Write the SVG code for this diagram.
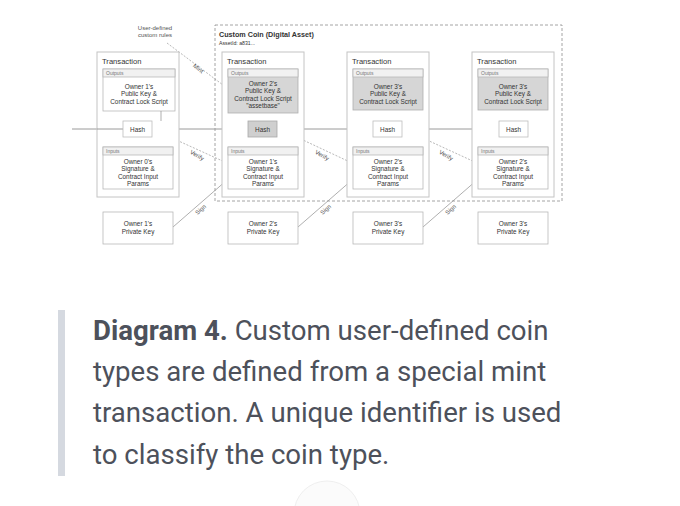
<svg xmlns="http://www.w3.org/2000/svg" width="680" height="506" viewBox="0 0 680 506">
<defs>
<style>
.bg{fill:#ffffff}
.outer{fill:#fff;stroke:#c4c4c4;stroke-width:1}
.box{fill:#fff;stroke:#b8b8b8;stroke-width:0.8}
.gbox{fill:#d6d6d6;stroke:#b0b0b0;stroke-width:0.8}
.hdr{fill:#f1f1f1;stroke:#b8b8b8;stroke-width:0.8}
.hash{fill:#fff;stroke:#bdbdbd;stroke-width:0.8}
.ghash{fill:#cfcfcf;stroke:#a8a8a8;stroke-width:0.8}
.t{font-family:"Liberation Sans",Arial,sans-serif;fill:#333}
.title{font-size:7.6px}
.small{font-size:5px;fill:#777}
.body{font-size:6.4px;text-anchor:middle}
.lbl{font-size:6px;fill:#555;text-anchor:middle}
.chain{stroke:#9a9a9a;stroke-width:1;fill:none}
.link{stroke:#8c8c8c;stroke-width:0.7;fill:none}
.dash{stroke:#9a9a9a;stroke-width:0.7;fill:none;stroke-dasharray:2,1.5}
.cap{font-family:Roboto,"Liberation Sans",sans-serif;font-size:27.6px;fill:#4d515b}
</style>
<marker id="ah" viewBox="0 0 6 6" refX="5.5" refY="3" markerWidth="4" markerHeight="4" orient="auto">
<path d="M0,0 L6,3 L0,6 z" fill="#555"/>
</marker>
</defs>
<rect class="bg" x="0" y="0" width="680" height="506"/>

<g id="custom-coin">
<rect x="215" y="25" width="347" height="176" fill="none" stroke="#9a9a9a" stroke-width="0.9" stroke-dasharray="3,2"/>
<text class="t" x="219" y="37" font-size="7.2px" font-weight="bold" fill="#222">Custom Coin (Digital Asset)</text>
<text class="t" x="219" y="44.5" font-size="5.2px" fill="#555">AssetId: a831...</text>
</g>

<g id="connectors">
<path class="chain" d="M72 129 H123"/>
<path class="chain" d="M179 129 H248"/>
<path class="chain" d="M304 129 H373"/>
<path class="chain" d="M429 129 H499"/>
<path class="link" d="M138.5 111 V121 M138.5 137 V147"/>
<path class="link" d="M263 113 V121 M263 137 V147"/>
<path class="link" d="M388 110 V121 M388 137 V147"/>
<path class="link" d="M513 110 V121 M513 137 V147"/>
<path class="link" d="M161 111 V133"/>
<path class="dash" d="M161 133 L227 163" marker-end="url(#ah)"/>
<path class="link" d="M288 113 V133"/>
<path class="dash" d="M288 133 L352 163" marker-end="url(#ah)"/>
<path class="link" d="M414 110 V134"/>
<path class="dash" d="M414 134 L477 163" marker-end="url(#ah)"/>
<path class="link" d="M173 227 L227 180" marker-end="url(#ah)"/>
<path class="link" d="M298 227 L352 180" marker-end="url(#ah)"/>
<path class="link" d="M423 227 L477 180" marker-end="url(#ah)"/>
<path class="dash" d="M167 43 L227 88" marker-end="url(#ah)"/>
<text class="t lbl" transform="translate(197 70) rotate(38)">Mint</text>
<text class="t lbl" transform="translate(196 157) rotate(30)">Verify</text>
<text class="t lbl" transform="translate(321 157) rotate(30)">Verify</text>
<text class="t lbl" transform="translate(445 157) rotate(30)">Verify</text>
<text class="t lbl" transform="translate(202 211) rotate(-42)">Sign</text>
<text class="t lbl" transform="translate(327 211) rotate(-42)">Sign</text>
<text class="t lbl" transform="translate(452 211) rotate(-42)">Sign</text>
</g>

<g id="user-rules">
<text class="t lbl" x="155" y="29.5">User-defined</text>
<text class="t lbl" x="155" y="37">custom rules</text>
</g>

<g id="tx1">
<rect class="outer" x="97" y="52" width="82" height="145"/>
<path class="chain" d="M97 129 H123"/>
<text class="t title" x="102" y="63.5">Transaction</text>
<rect class="box" x="103" y="69" width="72" height="42"/>
<rect class="hdr" x="103" y="69" width="72" height="8"/>
<text class="t small" x="106" y="75">Outputs</text>
<text class="t body" x="139" y="88.5">Owner 1's</text>
<text class="t body" x="139" y="96">Public Key &amp;</text>
<text class="t body" x="139" y="103.5">Contract Lock Script</text>
<path class="link" d="M161 111 V121"/>
<rect class="hash" x="123" y="121" width="29" height="16"/>
<text class="t body" x="137.5" y="131.5">Hash</text>
<rect class="box" x="103" y="147" width="70" height="42"/>
<rect class="hdr" x="103" y="147" width="70" height="8"/>
<text class="t small" x="106" y="153">Inputs</text>
<text class="t body" x="138" y="163.5">Owner 0's</text>
<text class="t body" x="138" y="171">Signature &amp;</text>
<text class="t body" x="138" y="178.5">Contract Input</text>
<text class="t body" x="138" y="186">Params</text>
</g>

<g id="tx2">
<rect class="outer" x="222" y="52" width="82" height="145"/>
<text class="t title" x="227" y="63.5">Transaction</text>
<rect class="gbox" x="228" y="69" width="70" height="44"/>
<rect class="hdr" x="228" y="69" width="70" height="8"/>
<text class="t small" x="231" y="75">Outputs</text>
<text class="t body" x="263" y="85.5">Owner 2's</text>
<text class="t body" x="263" y="93">Public Key &amp;</text>
<text class="t body" x="263" y="100.5">Contract Lock Script</text>
<text class="t body" x="263" y="108">"assetbase"</text>
<rect class="ghash" x="248" y="121" width="29" height="16"/>
<text class="t body" x="262.5" y="131.5">Hash</text>
<rect class="box" x="228" y="147" width="70" height="42"/>
<rect class="hdr" x="228" y="147" width="70" height="8"/>
<text class="t small" x="231" y="153">Inputs</text>
<text class="t body" x="263" y="163.5">Owner 1's</text>
<text class="t body" x="263" y="171">Signature &amp;</text>
<text class="t body" x="263" y="178.5">Contract Input</text>
<text class="t body" x="263" y="186">Params</text>
</g>

<g id="tx3">
<rect class="outer" x="347" y="52" width="82" height="145"/>
<text class="t title" x="352" y="63.5">Transaction</text>
<rect class="gbox" x="353" y="69" width="70" height="41"/>
<rect class="hdr" x="353" y="69" width="70" height="8"/>
<text class="t small" x="356" y="75">Outputs</text>
<text class="t body" x="388" y="88.5">Owner 3's</text>
<text class="t body" x="388" y="96">Public Key &amp;</text>
<text class="t body" x="388" y="103.5">Contract Lock Script</text>
<rect class="hash" x="373" y="121" width="29" height="16"/>
<text class="t body" x="387.5" y="131.5">Hash</text>
<rect class="box" x="353" y="147" width="70" height="42"/>
<rect class="hdr" x="353" y="147" width="70" height="8"/>
<text class="t small" x="356" y="153">Inputs</text>
<text class="t body" x="388" y="163.5">Owner 2's</text>
<text class="t body" x="388" y="171">Signature &amp;</text>
<text class="t body" x="388" y="178.5">Contract Input</text>
<text class="t body" x="388" y="186">Params</text>
</g>

<g id="tx4">
<rect class="outer" x="472" y="52" width="82" height="145"/>
<text class="t title" x="477" y="63.5">Transaction</text>
<rect class="gbox" x="478" y="69" width="70" height="41"/>
<rect class="hdr" x="478" y="69" width="70" height="8"/>
<text class="t small" x="481" y="75">Outputs</text>
<text class="t body" x="513" y="88.5">Owner 3's</text>
<text class="t body" x="513" y="96">Public Key &amp;</text>
<text class="t body" x="513" y="103.5">Contract Lock Script</text>
<rect class="hash" x="499" y="121" width="29" height="16"/>
<text class="t body" x="513.5" y="131.5">Hash</text>
<rect class="box" x="478" y="147" width="70" height="42"/>
<rect class="hdr" x="478" y="147" width="70" height="8"/>
<text class="t small" x="481" y="153">Inputs</text>
<text class="t body" x="513" y="163.5">Owner 2's</text>
<text class="t body" x="513" y="171">Signature &amp;</text>
<text class="t body" x="513" y="178.5">Contract Input</text>
<text class="t body" x="513" y="186">Params</text>
</g>

<g id="key1">
<rect class="box" x="103" y="212" width="70" height="32"/>
<text class="t body" x="138" y="226">Owner 1's</text>
<text class="t body" x="138" y="234">Private Key</text>
</g>
<g id="key2">
<rect class="box" x="228" y="212" width="70" height="32"/>
<text class="t body" x="263" y="226">Owner 2's</text>
<text class="t body" x="263" y="234">Private Key</text>
</g>
<g id="key3">
<rect class="box" x="353" y="212" width="70" height="32"/>
<text class="t body" x="388" y="226">Owner 3's</text>
<text class="t body" x="388" y="234">Private Key</text>
</g>
<g id="key4">
<rect class="box" x="478" y="212" width="70" height="32"/>
<text class="t body" x="513" y="226">Owner 3's</text>
<text class="t body" x="513" y="234">Private Key</text>
</g>

<g id="caption">
<rect x="58" y="310" width="7" height="166" fill="#d5d9e0"/>
<text class="cap" x="93" y="340"><tspan font-weight="bold">Diagram 4.</tspan> Custom user-defined coin</text>
<text class="cap" x="93" y="381">types are defined from a special mint</text>
<text class="cap" x="93" y="422">transaction. A unique identifier is used</text>
<text class="cap" x="93" y="464">to classify the coin type.</text>
</g>
<circle cx="327" cy="514" r="33" fill="#fbfbfb" stroke="#efefef" stroke-width="1"/>
</svg>
